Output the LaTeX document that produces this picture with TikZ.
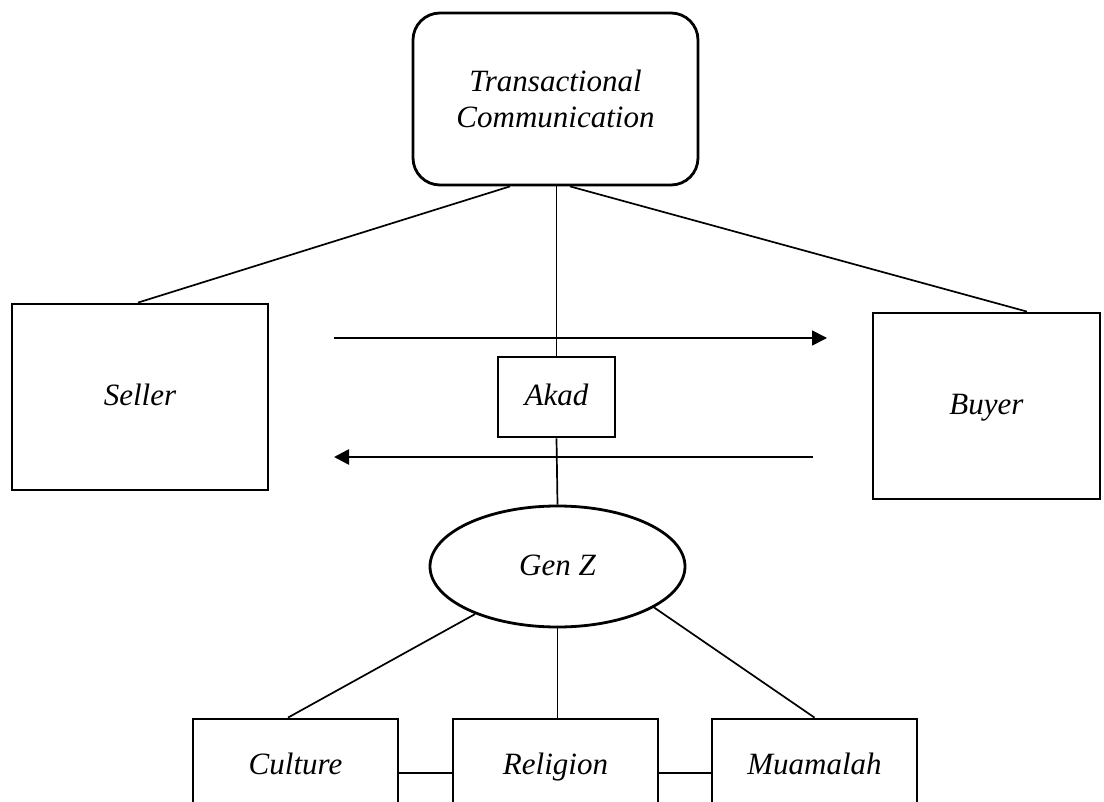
\documentclass[tikz,border=0pt]{standalone}
\usepackage{fontspec}
\setmainfont{Liberation Serif}
\usepackage{tikz}
\usetikzlibrary{positioning, arrows.meta, calc, shapes.geometric}

\begin{document}
\begin{tikzpicture}[x=0.5pt, y=-0.5pt,
    font=\fontsize{15.5}{18}\selectfont\itshape,
    box/.style={draw, line width=1.4pt, inner sep=0pt, align=center},
    word/.style={text height=0.9em, text depth=0pt},
    link/.style={line width=0.85pt}]
        \useasboundingbox (0,0) rectangle (1104,802);
        \clip (0,0) rectangle (1104,802);
        % top
        \node[box, rounded corners=13.5pt, minimum width=142.5pt, minimum height=86pt] (tc) at (555.5,99) {Transactional\\Communication};
        % parties
        \node[box, word, minimum width=128pt, minimum height=93pt] (seller) at (140,397) {Seller};
        \node[box, word, minimum width=113.5pt, minimum height=93pt] (buyer) at (986.5,406) {Buyer};
        \node[box, word, minimum width=58.5pt, minimum height=40pt] (akad) at (556.5,397) {Akad};
        \node[box, word, ellipse, minimum width=127.5pt, minimum height=60.5pt] (genz) at (557.5,566.5) {Gen Z};
        % bottom row
        \node[box, word, minimum width=102.5pt, minimum height=46pt] (culture) at (295.5,765) {Culture};
        \node[box, word, minimum width=102.5pt, minimum height=46pt] (religion) at (555.5,765) {Religion};
        \node[box, word, minimum width=102.5pt, minimum height=46pt] (muamalah) at (814.5,765) {Muamalah};
        \coordinate (offerstart) at (334,338);
        \coordinate (offerend) at (827,338);
        \coordinate (backstart) at (813,457);
        \coordinate (backend) at (334,457);
        \draw[link] ([xshift=-22.75pt]tc.south) -- ([xshift=-1pt]seller.north);
        \draw[link] ([xshift=7.25pt]tc.south) -- ([xshift=20.25pt]buyer.north);
        \draw[link] (akad.north |- tc.south) -- (akad.north);
        \draw[link] (akad.south) -- (genz.north);
        \draw[-{Triangle[length=7.5pt, width=7.5pt]}, line width=0.85pt] (offerstart) -- (offerend);
        \draw[-{Triangle[length=7.5pt, width=7.5pt]}, line width=1.3pt] (backstart) -- (backend);
        \draw[link] (genz.210) -- ([xshift=-3.75pt]culture.north);
        \draw[link] (genz.south) -- (genz.south |- religion.north);
        \draw[link] (genz.-23) -- (muamalah.north);
        \draw[link] ([yshift=-4pt]culture.east) -- ([yshift=-4pt]religion.west);
        \draw[link] ([yshift=-4pt]religion.east) -- ([yshift=-4pt]muamalah.west);
      \end{tikzpicture}
\end{document}
